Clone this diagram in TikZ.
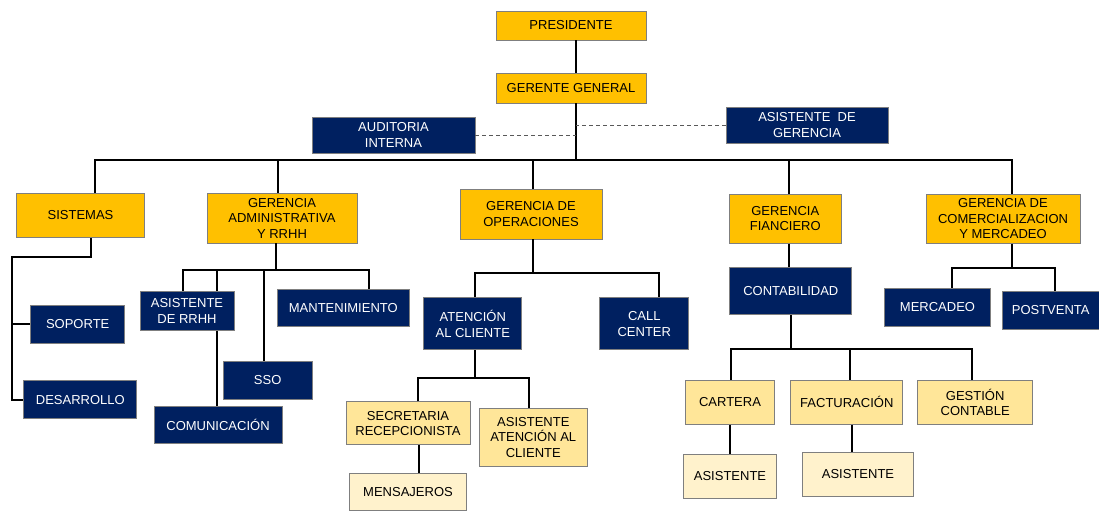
\documentclass[tikz,border=0pt]{standalone}
\usepackage{fontspec}
\setmainfont{Liberation Sans}
\definecolor{oro}{HTML}{FFC000}
\definecolor{azul}{HTML}{002060}
\definecolor{crema}{HTML}{FFE699}
\definecolor{claro}{HTML}{FFF2CC}
\definecolor{borde}{HTML}{7F7F7F}
\begin{document}
\begin{tikzpicture}[x=1pt,y=-1pt,
	caja/.style={draw=borde, line width=0.8pt, inner sep=0pt, align=center, font=\fontsize{13}{15.5}\selectfont},
	tam/.style 2 args={minimum width=#1pt, minimum height=#2pt},
	gerencia/.style={caja, fill=oro},
	area/.style={caja, fill=azul, text=white},
	seccion/.style={caja, fill=crema},
	apoyo/.style={caja, fill=claro},
	linea/.style={line width=2pt},
	staff/.style={draw=gray!70!black, line width=0.8pt, dash pattern=on 4pt off 3pt}]
	\useasboundingbox (0,0) rectangle (1099,511);
	% direccion
	\node[gerencia, tam={150}{29}] (pres) at (571,25.5) {PRESIDENTE};
	\node[gerencia, tam={150}{30}] (gg) [below of=pres, node distance=62.5pt] {GERENTE GENERAL};
	\node[area, tam={163}{36}] (aud) at (393.5,135) {AUDITORIA\\INTERNA};
	\node[area, tam={162}{36}] (asg) at (807,125) {ASISTENTE~ DE\\GERENCIA};
	% gerencias
	\node[gerencia, tam={128}{44}] (sis) at (80.5,215.5) {SISTEMAS};
	\node[gerencia, tam={150}{50}] (gadm) at (282,218) {GERENCIA\\ADMINISTRATIVA\\Y RRHH};
	\node[gerencia, tam={142}{50}] (gop) at (531,214) {GERENCIA DE\\OPERACIONES};
	\node[gerencia, tam={112}{49}] (gfin) at (785.3,218.7) {GERENCIA\\FIANCIERO};
	\node[gerencia, tam={154}{49}] (gcom) at (1003,218.7) {GERENCIA DE\\COMERCIALIZACION\\Y MERCADEO};
	% sistemas
	\node[area, tam={94}{38}] (sop) at (77.7,324) {SOPORTE};
	\node[area, tam={113}{38}] (des) at (80.3,399.7) {DESARROLLO};
	% administrativa
	\node[area, tam={94}{39}] (arrhh) at (187,311) {ASISTENTE\\DE RRHH};
	\node[area, tam={132}{37}] (mant) at (343.3,308) {MANTENIMIENTO};
	\node[area, tam={89}{38}] (sso) at (267.7,380.5) {SSO};
	\node[area, tam={128}{37}] (com) at (218,425.3) {COMUNICACIÓN};
	% operaciones
	\node[area, tam={98}{52}] (atc) at (472.8,323.8) {ATENCIÓN\\AL CLIENTE};
	\node[area, tam={89}{52}] (call) at (644.3,323.8) {CALL\\CENTER};
	\node[seccion, tam={124}{43}] (sec) at (408,423.3) {SECRETARIA\\RECEPCIONISTA};
	\node[seccion, tam={108}{58}] (aac) at (533.3,437.2) {ASISTENTE\\ATENCIÓN AL\\CLIENTE};
	\node[apoyo, tam={117}{37}] (mens) [below of=sec, node distance=68.5pt] {MENSAJEROS};
	% financiero
	\node[area, tam={122}{47}] (cont) at (790.8,291.2) {CONTABILIDAD};
	\node[seccion, tam={89}{44}] (cart) at (730,402.2) {CARTERA};
	\node[seccion, tam={112}{44}] (fact) at (846.8,402.2) {FACTURACIÓN};
	\node[seccion, tam={115}{44}] (gest) at (975.2,402.2) {GESTIÓN\\CONTABLE};
	\node[apoyo, tam={93}{44}] (as1) [below of=cart, node distance=74pt] {ASISTENTE};
	\node[apoyo, tam={111}{44}] (as2) at (858,474.5) {ASISTENTE};
	% comercializacion
	\node[area, tam={106}{38}] (merc) at (937.5,307.2) {MERCADEO};
	\node[area, tam={97}{38}] (post) at (1050.7,310.2) {POSTVENTA};
	% linea de mando
	\coordinate (tronco) at (576,160);
	\draw[linea] (pres.south -| tronco) -- (gg.north -| tronco);
	\draw[linea] (gg.south -| tronco) -- (tronco);
	\draw[staff] (aud.east) -- (aud.east -| tronco);
	\draw[staff] (asg.west) -- (asg.west -| tronco);
	\draw[linea] ([xshift=14pt]sis.north) |- (tronco) -| ([xshift=9pt]gcom.north);
	\draw[linea] ([xshift=-4pt]gadm.north) -- ([xshift=-4pt]gadm.north |- tronco);
	\draw[linea] ([xshift=2pt]gop.north) -- ([xshift=2pt]gop.north |- tronco);
	\draw[linea] ([xshift=4pt]gfin.north) -- ([xshift=4pt]gfin.north |- tronco);
	% sistemas
	\coordinate (sisb) at (91,257);
	\coordinate (sisl) at (12,257);
	\draw[linea] (sis.south -| sisb) -- (sisb) -- (sisl) |- (des.west);
	\draw[linea] (sisl |- sop.west) -- (sop.west);
	% administrativa
	\coordinate (adb) at (276,270);
	\coordinate (adl) at (183,270);
	\coordinate (adc) at (217,270);
	\coordinate (ads) at (264,270);
	\coordinate (adr) at (369,270);
	\draw[linea] (gadm.south -| adb) -- (adb);
	\draw[linea] (arrhh.north -| adl) |- (adr) -- (adr |- mant.north);
	\draw[linea] (adc) -- (adc |- arrhh.north);
	\draw[linea] (arrhh.south -| adc) -- (adc |- com.north);
	\draw[linea] (ads) -- (ads |- sso.north);
	% operaciones
	\coordinate (opb) at (533,273);
	\coordinate (opl) at (475,273);
	\coordinate (opr) at (659,273);
	\draw[linea] (gop.south -| opb) -- (opb);
	\draw[linea] (atc.north -| opl) |- (opr) -- (opr |- call.north);
	\coordinate (atb) at (475,378);
	\coordinate (atl) at (418,378);
	\coordinate (atr) at (529,378);
	\draw[linea] (atc.south -| atb) -- (atb);
	\draw[linea] (sec.north -| atl) |- (atr) -- (atr |- aac.north);
	\draw[linea] ([xshift=11pt]sec.south) -- ([xshift=11pt]sec.south |- mens.north);
	% financiero
	\draw[linea] ([xshift=4pt]gfin.south) -- ([xshift=4pt]gfin.south |- cont.north);
	\coordinate (cob) at (791,349);
	\coordinate (cor) at (972,349);
	\draw[linea] (cont.south -| cob) -- (cob);
	\draw[linea] ([xshift=1pt]cart.north) |- (cor) -- (cor |- gest.north);
	\draw[linea] ([xshift=3.5pt]fact.north) -- ([xshift=3.5pt]fact.north |- cor);
	\draw[linea] (cart.south) -- (as1.north);
	\draw[linea] ([xshift=5.5pt]fact.south) -- ([xshift=5.5pt]fact.south |- as2.north);
	% comercializacion
	\coordinate (cmb) at (1012,268);
	\coordinate (cml) at (952,268);
	\coordinate (cmr) at (1055,268);
	\draw[linea] (gcom.south -| cmb) -- (cmb);
	\draw[linea] (merc.north -| cml) |- (cmr) -- (cmr |- post.north);
\end{tikzpicture}
\end{document}
